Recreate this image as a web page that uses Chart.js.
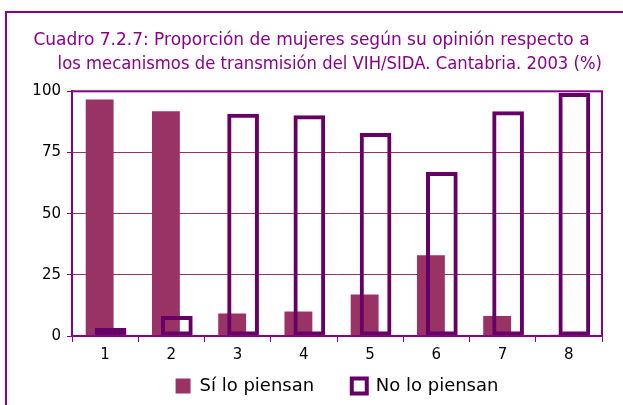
<!DOCTYPE html>
<html>
<head>
<meta charset="utf-8">
<script src="https://cdn.jsdelivr.net/npm/chart.js@4.4.1/dist/chart.umd.min.js"></script>
<style>
  html, body { margin: 0; padding: 0; background: #fff; overflow: hidden; }
  canvas { display: block; }
</style>
</head>
<body>
<canvas id="chart" width="623" height="405"></canvas>
<script>
const categories = ['1', '2', '3', '4', '5', '6', '7', '8'];
const siLoPiensan = [96.7, 91.8, 9.2, 10, 17, 33, 8.2, 0.5];
const noLoPiensan = [3.3, 8.2, 90.8, 90.2, 83, 67, 91.8, 99.3];
const yTicks = [0, 25, 50, 75, 100];
const titleLines = [
    'Cuadro 7.2.7: Proporción de mujeres según su opinión respecto a',
    '       los mecanismos de transmisión del VIH/SIDA. Cantabria. 2003 (%)'
];

const PURPLE = '#8b008b';
const FONT = "'DejaVu Sans', sans-serif";

// outer frame (only left and top edges fall inside the crop) and plot-area frame
const frames = {
    id: 'frames',
    beforeDraw(chart) {
        const ctx = chart.ctx;
        ctx.save();
        ctx.strokeStyle = PURPLE;
        ctx.lineWidth = 2;
        ctx.beginPath();
        ctx.moveTo(6, chart.height + 5);
        ctx.lineTo(6, 12);
        ctx.lineTo(chart.width + 5, 12);
        ctx.stroke();
        ctx.restore();
    },
    afterDraw(chart) {
        const a = chart.chartArea;
        const ctx = chart.ctx;
        ctx.save();
        ctx.strokeStyle = PURPLE;
        ctx.lineWidth = 2;
        ctx.strokeRect(a.left, a.top, a.right - a.left, a.bottom - a.top);
        ctx.restore();
    }
};

// draw the filled series first so the outlined one sits on top
const drawOrder = {
    id: 'drawOrder',
    beforeDatasetsDraw(chart) {
        [0, 1].forEach(i => chart.getDatasetMeta(i).controller.draw());
        return false;
    }
};

new Chart(document.getElementById('chart'), {
    type: 'bar',
    data: {
        labels: categories,
        datasets: [{
            label: 'Sí lo piensan',
            data: siLoPiensan,
            backgroundColor: '#993366',
            borderWidth: 0,
            categoryPercentage: 0.33,
            barPercentage: 2.55
        }, {
            label: 'No lo piensan',
            data: noLoPiensan,
            backgroundColor: 'rgba(255,255,255,0)',
            borderColor: '#660066',
            borderWidth: 4,
            borderSkipped: false,
            categoryPercentage: 0.33,
            barPercentage: 2.9
        }]
    },
    options: {
        responsive: false,
        animation: false,
        layout: { padding: { left: 21, right: 21, top: 28, bottom: 0 } },
        plugins: {
            title: {
                display: true,
                text: titleLines,
                color: PURPLE,
                font: { family: FONT, size: 17, weight: 'normal', lineHeight: 1.45 },
                padding: { top: 0, bottom: 14 }
            },
            legend: {
                position: 'bottom',
                fullSize: false,
                labels: {
                    color: '#000',
                    font: { family: FONT, size: 18 },
                    boxWidth: 15,
                    boxHeight: 15,
                    padding: 9,
                    generateLabels(chart) {
                        const items = Chart.defaults.plugins.legend.labels.generateLabels(chart);
                        items[0].text += '     ';
                        items[1].fillStyle = '#fff';
                        return items;
                    }
                }
            },
            tooltip: { enabled: false }
        },
        scales: {
            x: {
                offset: true,
                grid: {
                    offset: true,
                    drawOnChartArea: false,
                    drawTicks: true,
                    tickLength: 6,
                    tickColor: PURPLE
                },
                border: { color: PURPLE, width: 2 },
                ticks: { color: '#000', font: { family: FONT, size: 15 }, padding: 4 }
            },
            y: {
                min: 0,
                max: 100,
                afterFit(scale) { scale.width = 51; },
                afterBuildTicks(scale) { scale.ticks = yTicks.map(v => ({ value: v })); },
                grid: {
                    color: '#993366',
                    lineWidth: 1,
                    tickLength: 5,
                    tickColor: PURPLE
                },
                border: { color: PURPLE, width: 2 },
                ticks: { color: '#000', font: { family: FONT, size: 15 }, padding: 6 }
            }
        }
    },
    plugins: [frames, drawOrder]
});
</script>
</body>
</html>
